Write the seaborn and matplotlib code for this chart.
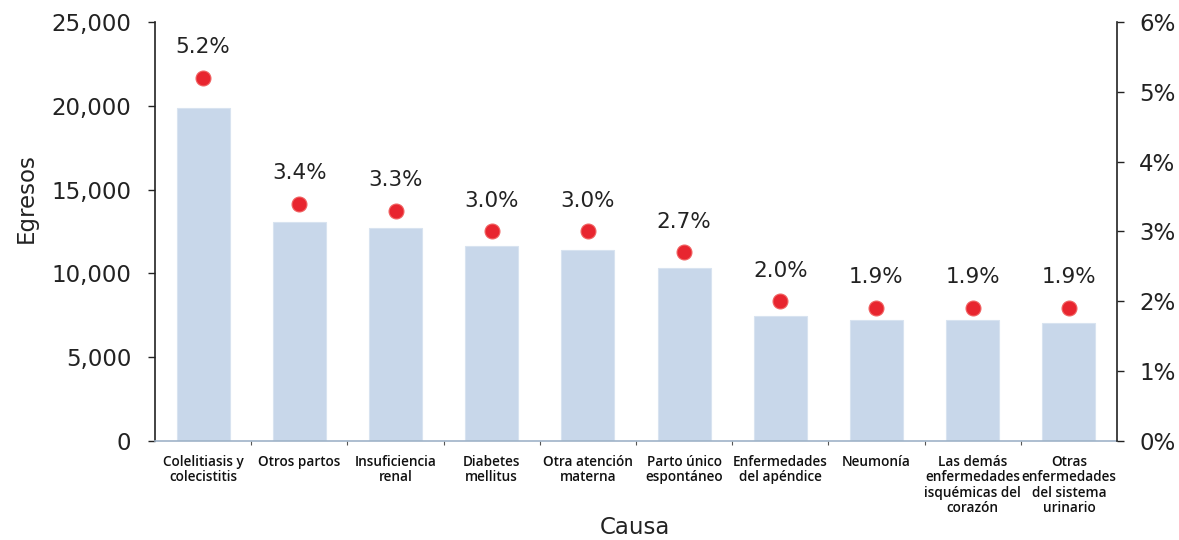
import matplotlib
matplotlib.use("Agg")
import matplotlib.pyplot as plt
import seaborn as sns
import pandas as pd
from matplotlib.ticker import FuncFormatter, FixedLocator

causas = [
    "Colelitiasis y\ncolecistitis",
    "Otros partos",
    "Insuficiencia\nrenal",
    "Diabetes\nmellitus",
    "Otra atención\nmaterna",
    "Parto único\nespontáneo",
    "Enfermedades\ndel apéndice",
    "Neumonía",
    "Las demás\nenfermedades\nisquémicas del\ncorazón",
    "Otras\nenfermedades\ndel sistema\nurinario",
]
egresos = [19850, 13080, 12700, 11620, 11400, 10330, 7460, 7220, 7220, 7060]
porcentaje = [5.2, 3.4, 3.3, 3.0, 3.0, 2.7, 2.0, 1.9, 1.9, 1.9]

df = pd.DataFrame({"Causa": causas, "Egresos": egresos, "Porcentaje": porcentaje})

sns.set_theme(style="white")
plt.rcParams["font.family"] = ["DejaVu Sans"]

fig = plt.figure(figsize=(11.79, 5.4), dpi=100)
ax = fig.add_axes([0.1315, 0.1833, 0.8159, 0.776])

sns.barplot(data=df, x="Causa", y="Egresos", color="#c8d7ea", saturation=1,
            width=0.55, ax=ax, edgecolor="#d8e3f0", linewidth=0.8)
ax.set_xlim(-0.5, len(causas) - 0.5)
ax.set_ylim(0, 25000)
ax.yaxis.set_major_formatter(FuncFormatter(lambda v, p: f"{int(v):,}"))
ax.set_yticks(range(0, 25001, 5000))
ax.tick_params(axis="y", labelsize=16.5, length=5, width=1, direction="out",
               left=True, colors="#222222", pad=12)
ax.tick_params(axis="x", length=0, pad=10)
for lab in ax.get_xticklabels():
    lab.set_family(["Open Sans", "DejaVu Sans"])
    lab.set_fontsize(9.8)
    lab.set_linespacing(1.12)
    lab.set_fontweight("semibold")
    lab.set_color("#111111")
ax.xaxis.set_minor_locator(FixedLocator([i + 0.5 for i in range(len(causas) - 1)]))
ax.tick_params(axis="x", which="minor", bottom=True, length=3, width=0.8, color="#555555")

ax.set_ylabel("Egresos", fontsize=16.5, color="#222222")
ax.yaxis.set_label_coords(-0.122, 0.58)
ax.set_xlabel("Causa", fontsize=16.5, color="#222222")
ax.xaxis.set_label_coords(0.499, -0.178)

ax.spines["top"].set_visible(False)
ax.spines["right"].set_visible(False)
ax.spines["left"].set_color("#222222")
ax.spines["left"].set_linewidth(1.2)
ax.spines["bottom"].set_color("#9fb3c8")
ax.spines["bottom"].set_linewidth(1.2)

ax2 = ax.twinx()
sns.scatterplot(data=df, x="Causa", y="Porcentaje", ax=ax2, color="#e8252f",
                s=115, edgecolor="#f06060", linewidth=0.8, zorder=5)
ax2.set_ylim(0, 6)
ax2.set_yticks(range(0, 7))
ax2.yaxis.set_major_formatter(FuncFormatter(lambda v, p: f"{int(v)}%"))
ax2.tick_params(axis="y", labelsize=16.5, length=5, width=1, direction="out",
                right=True, colors="#222222", pad=11)
ax2.set_ylabel("")
ax2.set_xlabel("")
for side in ["top", "left", "bottom"]:
    ax2.spines[side].set_visible(False)
ax2.spines["right"].set_color("#222222")
ax2.spines["right"].set_linewidth(1.2)

for i, p in enumerate(porcentaje):
    ax2.annotate(f"{p:.1f}%", (i, p), xytext=(0, 15), textcoords="offset points",
                 ha="center", va="bottom", fontsize=15.5, color="#222222")

fig.savefig("out.png", dpi=100)
